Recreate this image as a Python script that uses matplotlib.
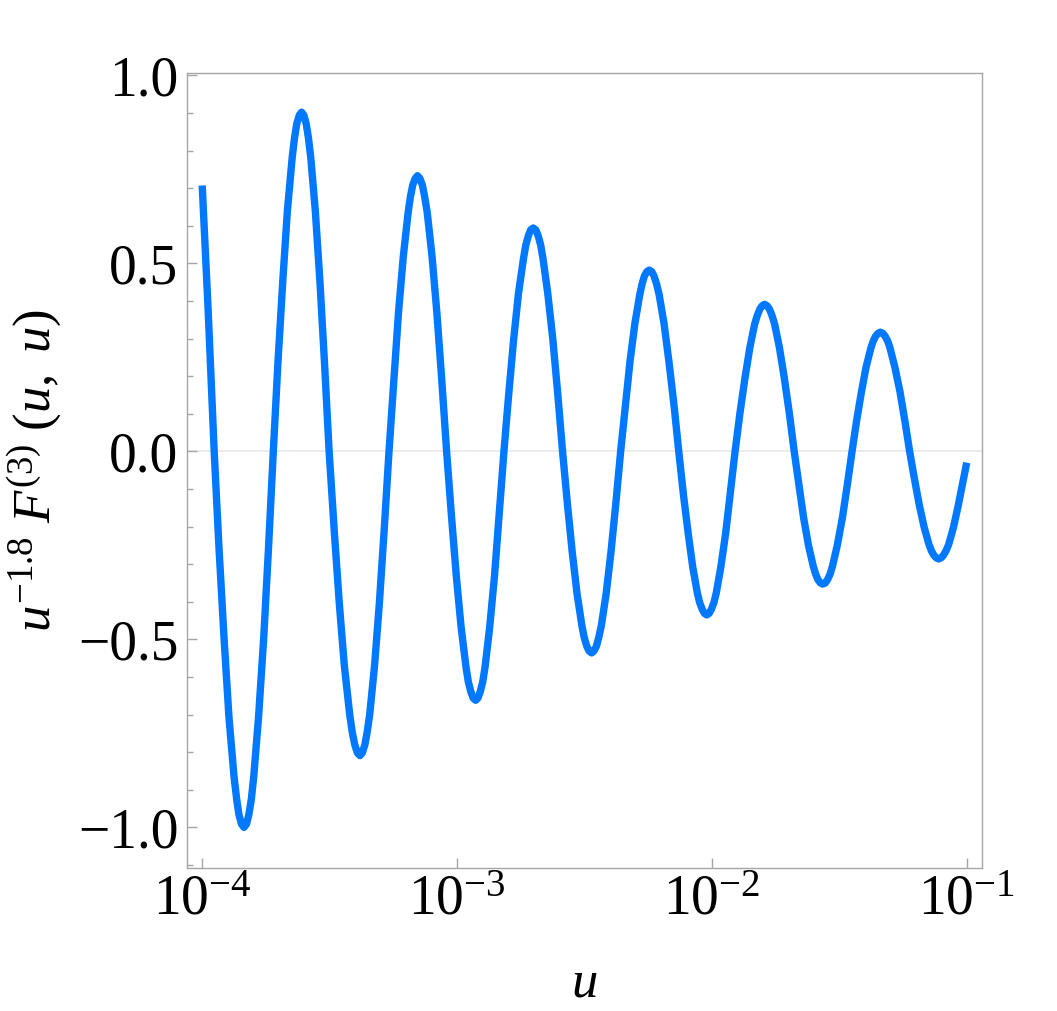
import numpy as np
import matplotlib
matplotlib.use("Agg")
import matplotlib.pyplot as plt
from matplotlib.ticker import FixedLocator, MultipleLocator, FuncFormatter, LogFormatterMathtext, NullLocator

# ----------------------------------------------------------------------
# Data: log10(u) and u^-1.8 F^(3)(u, u)
# ----------------------------------------------------------------------
LOG_U = [
    -4.000, -3.977, -3.953,
    -3.934, -3.914, -3.895, -3.875, -3.865, -3.856, -3.846, -3.836,
    -3.826, -3.817, -3.807, -3.798, -3.779, -3.759, -3.740, -3.721,
    -3.703, -3.684, -3.666, -3.647, -3.638, -3.629, -3.619, -3.610,
    -3.601, -3.592, -3.583, -3.574, -3.556, -3.538, -3.520, -3.502,
    -3.482, -3.462, -3.442, -3.421, -3.411, -3.401, -3.391, -3.381,
    -3.372, -3.362, -3.353, -3.343, -3.324, -3.305, -3.286, -3.267,
    -3.248, -3.230, -3.211, -3.192, -3.183, -3.174, -3.164, -3.155,
    -3.146, -3.136, -3.127, -3.117, -3.098, -3.079, -3.060, -3.041,
    -3.022, -3.003, -2.984, -2.965, -2.956, -2.946, -2.937, -2.927,
    -2.918, -2.909, -2.899, -2.890, -2.872, -2.853, -2.835, -2.816,
    -2.797, -2.778, -2.759, -2.739, -2.730, -2.720, -2.711, -2.701,
    -2.691, -2.682, -2.672, -2.663, -2.644, -2.624, -2.605, -2.586,
    -2.567, -2.548, -2.529, -2.510, -2.501, -2.491, -2.482, -2.472,
    -2.463, -2.453, -2.444, -2.434, -2.415, -2.396, -2.377, -2.358,
    -2.339, -2.321, -2.302, -2.283, -2.274, -2.265, -2.255, -2.246,
    -2.236, -2.227, -2.217, -2.207, -2.188, -2.169, -2.149, -2.130,
    -2.112, -2.093, -2.075, -2.057, -2.048, -2.038, -2.029, -2.020,
    -2.011, -2.002, -1.992, -1.983, -1.965, -1.946, -1.928, -1.909,
    -1.890, -1.870, -1.851, -1.832, -1.822, -1.812, -1.803, -1.793,
    -1.783, -1.774, -1.764, -1.754, -1.735, -1.716, -1.696, -1.677,
    -1.658, -1.640, -1.621, -1.602, -1.593, -1.584, -1.574, -1.565,
    -1.555, -1.546, -1.536, -1.527, -1.508, -1.488, -1.469, -1.450,
    -1.432, -1.413, -1.395, -1.376, -1.367, -1.358, -1.348, -1.339,
    -1.329, -1.320, -1.310, -1.301, -1.282, -1.262, -1.243, -1.224,
    -1.205, -1.186, -1.167, -1.148, -1.139, -1.129, -1.120, -1.110,
    -1.100, -1.091, -1.081, -1.071, -1.052, -1.033, -1.013, -1.000,
]

VALUES = [
    0.707, 0.380, 0.000,
    -0.259, -0.500, -0.707, -0.866, -0.924, -0.966, -0.991, -1.000,
    -0.991, -0.966, -0.924, -0.866, -0.707, -0.500, -0.259, 0.000,
    0.234, 0.451, 0.638, 0.781, 0.833, 0.871, 0.894, 0.902,
    0.894, 0.871, 0.833, 0.781, 0.638, 0.451, 0.234, 0.000,
    -0.210, -0.405, -0.572, -0.701, -0.748, -0.781, -0.802, -0.809,
    -0.802, -0.781, -0.748, -0.701, -0.572, -0.405, -0.210, 0.000,
    0.190, 0.367, 0.518, 0.635, 0.677, 0.708, 0.726, 0.733,
    0.726, 0.708, 0.677, 0.635, 0.518, 0.367, 0.190, 0.000,
    -0.171, -0.331, -0.468, -0.573, -0.612, -0.639, -0.656, -0.662,
    -0.656, -0.639, -0.612, -0.573, -0.468, -0.331, -0.171, 0.000,
    0.154, 0.297, 0.420, 0.514, 0.549, 0.574, 0.589, 0.594,
    0.589, 0.574, 0.549, 0.514, 0.420, 0.297, 0.154, 0.000,
    -0.139, -0.268, -0.379, -0.464, -0.495, -0.518, -0.531, -0.536,
    -0.531, -0.518, -0.495, -0.464, -0.379, -0.268, -0.139, 0.000,
    0.125, 0.241, 0.341, 0.417, 0.445, 0.466, 0.478, 0.482,
    0.478, 0.466, 0.445, 0.417, 0.341, 0.241, 0.125, 0.000,
    -0.113, -0.218, -0.308, -0.377, -0.402, -0.420, -0.431, -0.435,
    -0.431, -0.420, -0.402, -0.377, -0.308, -0.218, -0.113, 0.000,
    0.101, 0.196, 0.276, 0.339, 0.361, 0.378, 0.387, 0.391,
    0.387, 0.378, 0.361, 0.339, 0.276, 0.196, 0.101, 0.000,
    -0.091, -0.177, -0.250, -0.306, -0.326, -0.341, -0.350, -0.353,
    -0.350, -0.341, -0.326, -0.306, -0.250, -0.177, -0.091, 0.000,
    0.082, 0.159, 0.224, 0.275, 0.293, 0.306, 0.314, 0.317,
    0.314, 0.306, 0.293, 0.275, 0.224, 0.159, 0.082, 0.000,
    -0.074, -0.143, -0.202, -0.248, -0.264, -0.276, -0.283, -0.286,
    -0.283, -0.276, -0.264, -0.248, -0.202, -0.143, -0.074, -0.030,
]

X_TICKS = [1e-4, 1e-3, 1e-2, 1e-1]
Y_TICKS = [-1.0, -0.5, 0.0, 0.5, 1.0]

# ----------------------------------------------------------------------
# Style
# ----------------------------------------------------------------------
plt.rcParams["font.family"] = ["Liberation Serif", "DejaVu Serif"]
plt.rcParams["mathtext.fontset"] = "custom"
plt.rcParams["mathtext.rm"] = "Liberation Serif"
plt.rcParams["mathtext.it"] = "Liberation Serif:italic"

LINE_COLOR = "#0078ff"
FRAME_COLOR = "#a6a6a6"
FS = 40

fig = plt.figure(figsize=(10.57, 10.11), dpi=100)
ax = fig.add_axes([0.1766, 0.1418, 0.7527, 0.7863])

u = 10.0 ** np.array(LOG_U)
ax.axhline(0.0, color="#e8e8e8", lw=1.2, zorder=1)
ax.plot(u, VALUES, color=LINE_COLOR, lw=5.3,
        solid_capstyle="butt", solid_joinstyle="round", zorder=3)

ax.set_xscale("log")
ax.set_xlim(10 ** -4.061, 10 ** -0.939)
ax.set_ylim(-1.107, 1.007)

ax.xaxis.set_major_locator(FixedLocator(X_TICKS))
ax.xaxis.set_minor_locator(NullLocator())
ax.xaxis.set_major_formatter(LogFormatterMathtext())
ax.yaxis.set_major_locator(FixedLocator(Y_TICKS))
ax.yaxis.set_minor_locator(MultipleLocator(0.1))


def fmt_y(v, pos):
    s = f"{v:.1f}"
    if s == "-0.0":
        s = "0.0"
    return s.replace("-", "\u2212")


ax.yaxis.set_major_formatter(FuncFormatter(fmt_y))

for side in ["left", "right", "top", "bottom"]:
    ax.spines[side].set_color(FRAME_COLOR)
    ax.spines[side].set_linewidth(1.0)

ax.tick_params(which="both", direction="in", color=FRAME_COLOR,
               top=False, right=False, labelsize=FS, labelcolor="black")
ax.tick_params(which="major", length=7.5, width=1.0)
ax.tick_params(which="minor", length=4.5, width=1.0)
ax.tick_params(axis="y", pad=6)
ax.tick_params(axis="x", pad=5)

ax.set_xlabel(r"$u$", fontsize=38)
ax.xaxis.set_label_coords(0.5, -0.1627)
ax.xaxis.label.set_va("baseline")

ax.set_ylabel(r"$u^{-1.8}\ F^{(3)}\ (u,\ u)$", fontsize=38)
ax.yaxis.set_label_coords(-0.172, 0.5)
ax.yaxis.label.set_rotation_mode("anchor")
ax.yaxis.label.set_va("baseline")
ax.yaxis.label.set_ha("center")

fig.savefig("out.png", dpi=100)
